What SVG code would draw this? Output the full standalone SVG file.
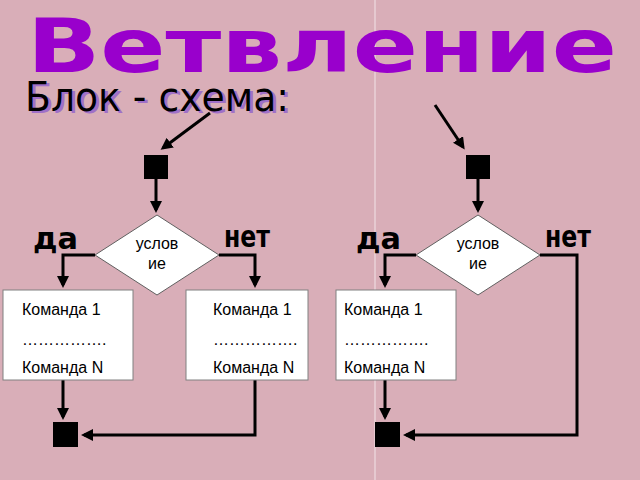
<svg xmlns="http://www.w3.org/2000/svg" width="640" height="480" viewBox="0 0 640 480">
<style>
.box{fill:#fff;stroke:#808080;stroke-width:1}
.dia{fill:#fff;stroke:#606060;stroke-width:1}
.sq{fill:#000}
.ln{fill:none;stroke:#000;stroke-width:3}
.t{font-family:"Liberation Sans",Arial,sans-serif;font-size:16px;fill:#000}
.yn{font-family:"DejaVu Sans",sans-serif;font-weight:bold;font-size:30px;fill:#000}
</style>
<defs>
<marker id="ah" markerWidth="4" markerHeight="4" refX="3" refY="2" orient="auto" markerUnits="strokeWidth"><path d="M0,0 L4,2 L0,4 z" fill="#000"/></marker>
</defs>
<rect width="640" height="480" fill="#d9aeb8"/>
<line x1="375" y1="0" x2="375" y2="480" stroke="#f2e4e8" stroke-width="1"/>
<text x="322" y="72" text-anchor="middle" font-family="DejaVu Sans,sans-serif" font-weight="bold" font-size="74" fill="#9900cc" textLength="590" lengthAdjust="spacingAndGlyphs">Ветвление</text>
<text x="28" y="113" font-family="DejaVu Sans Condensed,DejaVu Sans,sans-serif" font-size="40" fill="#a070c8" textLength="264" lengthAdjust="spacingAndGlyphs">Блок - схема:</text>
<text x="25" y="111" font-family="DejaVu Sans Condensed,DejaVu Sans,sans-serif" font-size="40" fill="#000" textLength="264" lengthAdjust="spacingAndGlyphs">Блок - схема:</text>
<g id="connectors">
<path class="ln" d="M210,113 L163,148" marker-end="url(#ah)"/>
<path class="ln" d="M435,105 L463,147" marker-end="url(#ah)"/>
<path class="ln" d="M156,179 V210" marker-end="url(#ah)"/>
<path class="ln" d="M478,179 V210" marker-end="url(#ah)"/>
<path class="ln" d="M95,255 H63 V285" marker-end="url(#ah)"/>
<path class="ln" d="M219,255 H255 V285" marker-end="url(#ah)"/>
<path class="ln" d="M416,255 H385 V285" marker-end="url(#ah)"/>
<path class="ln" d="M540,255 H577 V435 H406" marker-end="url(#ah)"/>
<path class="ln" d="M63,380 V417" marker-end="url(#ah)"/>
<path class="ln" d="M255,380 V435 H84" marker-end="url(#ah)"/>
<path class="ln" d="M385,380 V417" marker-end="url(#ah)"/>
</g>
<g id="start1"><rect class="sq" x="144" y="155" width="24" height="24"/></g>
<g id="start2"><rect class="sq" x="466" y="155" width="24" height="24"/></g>
<g id="cond1"><polygon class="dia" points="157,215 219,255 157,295 95,255"/><text class="t" x="157" y="249" text-anchor="middle">услов</text><text class="t" x="157" y="269" text-anchor="middle">ие</text></g>
<g id="cond2"><polygon class="dia" points="478,215 540,255 478,295 416,255"/><text class="t" x="478" y="249" text-anchor="middle">услов</text><text class="t" x="478" y="269" text-anchor="middle">ие</text></g>
<g id="box1"><rect class="box" x="3" y="290" width="130" height="90"/><text class="t" x="22" y="315">Команда 1</text><text class="t" x="22" y="345">…………….</text><text class="t" x="22" y="373">Команда N</text></g>
<g id="box2"><rect class="box" x="186" y="290" width="122" height="90"/><text class="t" x="213" y="315">Команда 1</text><text class="t" x="213" y="345">…………….</text><text class="t" x="213" y="373">Команда N</text></g>
<g id="box3"><rect class="box" x="336" y="290" width="120" height="90"/><text class="t" x="344" y="315">Команда 1</text><text class="t" x="344" y="345">…………….</text><text class="t" x="344" y="373">Команда N</text></g>
<g id="end1"><rect class="sq" x="53" y="422" width="25" height="25"/></g>
<g id="end2"><rect class="sq" x="375" y="422" width="25" height="25"/></g>
<g id="labels">
<text class="yn" x="33" y="249" textLength="45" lengthAdjust="spacingAndGlyphs">да</text>
<text class="yn" x="224" y="247" textLength="46" lengthAdjust="spacingAndGlyphs">нет</text>
<text class="yn" x="356" y="249" textLength="45" lengthAdjust="spacingAndGlyphs">да</text>
<text class="yn" x="545" y="247" textLength="46" lengthAdjust="spacingAndGlyphs">нет</text>
</g>
</svg>
